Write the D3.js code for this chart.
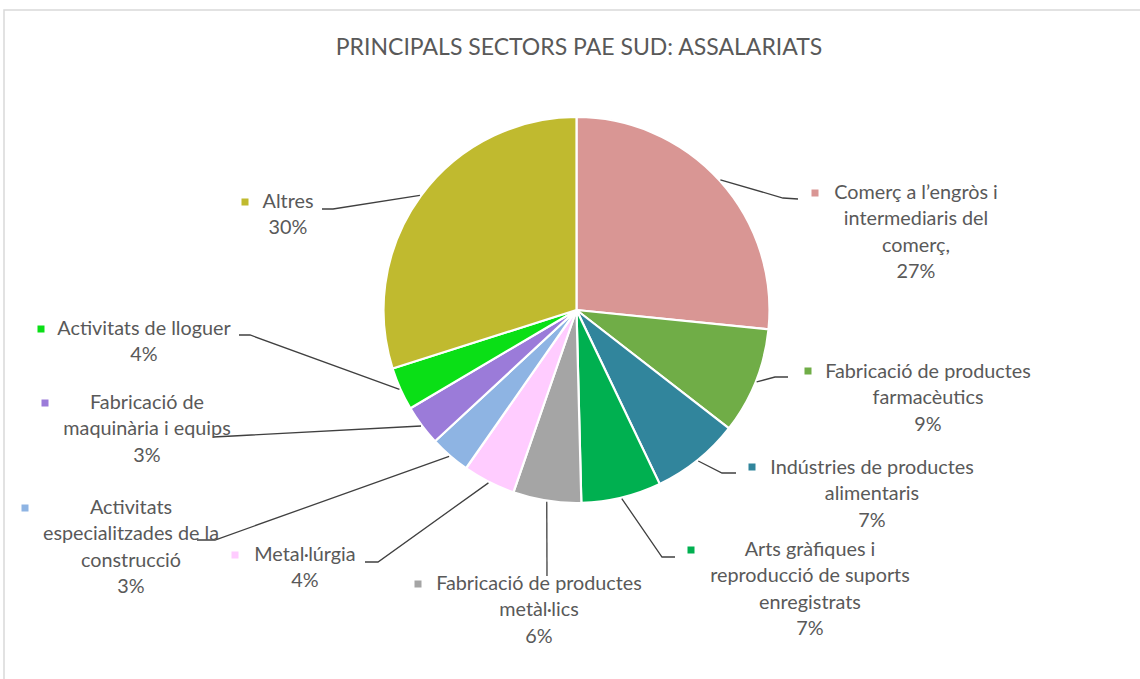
<!DOCTYPE html>
<html>
<head>
<meta charset="utf-8">
<script src="https://cdn.jsdelivr.net/npm/d3@7"></script>
<style>
  body { margin: 0; background: #fff; }
  svg { display: block; }
  text { font-family: Lato, "Noto Sans", sans-serif; fill: #595959; }
</style>
</head>
<body>
<div id="chart"></div>
<script>
// Dades
const title = "PRINCIPALS SECTORS PAE SUD: ASSALARIATS";
const categories = [
    "Comerç a l’engròs i\nintermediaris del\ncomerç,",
    "Fabricació de productes\nfarmacèutics",
    "Indústries de productes\nalimentaris",
    "Arts gràfiques i\nreproducció de suports\nenregistrats",
    "Fabricació de productes\nmetàl·lics",
    "Metal·lúrgia",
    "Activitats\nespecialitzades de la\nconstrucció",
    "Fabricació de\nmaquinària i equips",
    "Activitats de lloguer",
    "Altres"
];
const values = [26.6, 8.9, 7.4, 6.7, 5.7, 4.4, 3.4, 3.4, 3.6, 29.9];
const colors = ["#D99694", "#70AD47", "#31859C", "#00B050", "#A5A5A5",
                "#FFCCFF", "#8EB4E3", "#9B7BD9", "#0ADF16", "#C0BA2F"];

// posicions de les etiquetes (com a l'Excel, col·locades a mà)
// cx = centre del text, y = línia base primera línia, mx/my = quadret
const labelPos = [
    { cx: 916, y: 199, mx: 815, my: 193, elbow: [783, 198], end: [798, 199] },
    { cx: 928, y: 378, mx: 808, my: 371, elbow: [775, 377], end: [788, 377] },
    { cx: 872, y: 474, mx: 752, my: 467, elbow: [722, 473], end: [736, 473] },
    { cx: 810, y: 556, mx: 691, my: 550, elbow: [662, 557], end: [675, 557] },
    { cx: 539, y: 590, mx: 418, my: 584, elbow: null, end: [547, 576] },
    { cx: 305, y: 561, mx: 235, my: 555, elbow: [378, 562], end: [365, 562] },
    { cx: 131, y: 514, mx: 25, my: 508, elbow: [215, 540], end: [197, 540] },
    { cx: 147, y: 409, mx: 45, my: 403, elbow: [233, 436], end: [213, 437] },
    { cx: 144, y: 335, mx: 41, my: 329, elbow: [250, 335], end: [239, 335] },
    { cx: 288, y: 208, mx: 245, my: 202, elbow: [333, 209], end: [322, 209] }
];

const W = 1140, H = 679;
const cx = 576.5, cy = 310, r = 193;
const lineH = 26.3;

const data = categories.map((c, i) => ({ name: c, value: values[i], color: colors[i], pos: labelPos[i] }));
const total = d3.sum(values);

const svg = d3.select("#chart").append("svg")
    .attr("width", W)
    .attr("height", H);

svg.append("rect")
    .attr("x", 4).attr("y", 10)
    .attr("width", W).attr("height", H)
    .attr("fill", "none")
    .attr("stroke", "#d9d9d9")
    .attr("stroke-width", 1.5);

svg.append("text")
    .attr("x", 579)
    .attr("y", 55)
    .attr("text-anchor", "middle")
    .style("font-size", "23px")
    .text(title);

const pie = d3.pie().sort(null).value(d => d.value);
const arc = d3.arc().innerRadius(0).outerRadius(r);
const arcs = pie(data);

const g = svg.append("g").attr("transform", `translate(${cx},${cy})`);

g.selectAll("path.slice")
    .data(arcs)
    .enter()
    .append("path")
    .attr("class", "slice")
    .attr("d", arc)
    .attr("fill", d => d.data.color)
    .attr("stroke", "#fff")
    .attr("stroke-width", 2.2)
    .attr("stroke-linejoin", "round");

// línies guia
svg.selectAll("path.leader")
    .data(arcs)
    .enter()
    .append("path")
    .attr("class", "leader")
    .attr("fill", "none")
    .attr("stroke", "#404040")
    .attr("stroke-width", 1.3)
    .attr("d", d => {
        const a = (d.startAngle + d.endAngle) / 2;
        const sx = cx + Math.sin(a) * (r + 1);
        const sy = cy - Math.cos(a) * (r + 1);
        const p = d.data.pos;
        const pts = [[sx, sy]];
        if (p.elbow) pts.push(p.elbow);
        pts.push(p.end);
        return d3.line()(pts);
    });

// etiquetes
const labels = svg.selectAll("g.label")
    .data(arcs)
    .enter()
    .append("g")
    .attr("class", "label");

labels.append("rect")
    .attr("x", d => d.data.pos.mx - 3.5)
    .attr("y", d => d.data.pos.my - 3.5)
    .attr("width", 7)
    .attr("height", 7)
    .attr("fill", d => d.data.color);

labels.each(function (d) {
    const t = d3.select(this).append("text")
        .attr("text-anchor", "middle")
        .style("font-size", "19.8px");
    const lines = d.data.name.split("\n");
    lines.push(Math.round(d.data.value / total * 100) + "%");
    lines.forEach((ln, i) => {
        t.append("tspan")
            .attr("x", d.data.pos.cx)
            .attr("y", d.data.pos.y + i * lineH)
            .text(ln);
    });
});
</script>
</body>
</html>
